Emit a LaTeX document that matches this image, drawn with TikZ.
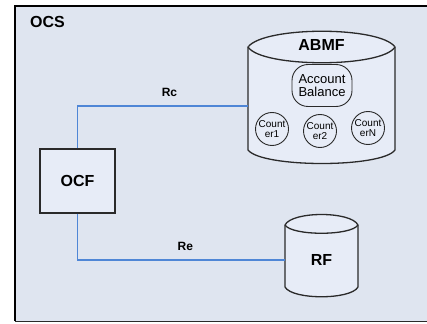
\documentclass[tikz,border=0pt]{standalone}
\usepackage{fontspec}
\setmainfont{Liberation Sans}
\usepackage{tikz}
\usetikzlibrary{arrows.meta,positioning}

\definecolor{ocsbg}{HTML}{DFE5F0}
\definecolor{boxbg}{HTML}{E7ECF7}
\definecolor{linkblue}{HTML}{4F86D6}
\definecolor{edge}{HTML}{2A2A2A}

\begin{document}
\begin{tikzpicture}[
    x=1pt, y=-1pt,
    bigtext/.style={font=\fontsize{16}{18}\selectfont\bfseries, inner sep=0pt},
    linktext/.style={font=\fontsize{12}{14}\selectfont\bfseries},
    func/.style={
    rectangle,
    draw=edge,
    fill=boxbg,
    line width=1.4pt,
    minimum width=75pt,
    minimum height=64pt,
    font=\fontsize{16}{18}\selectfont\bfseries},
    dbbody/.style={rectangle, inner sep=0pt},
    dbshape/.style={draw=edge, fill=boxbg, line width=1.3pt},
    balance/.style={
    rectangle,
    rounded corners=16pt,
    draw=edge,
    line width=0.9pt,
    minimum width=60pt,
    minimum height=42pt,
    inner sep=0pt,
    align=center,
    font=\fontsize{13}{14}\selectfont},
    counter/.style={
    circle,
    draw=edge,
    line width=0.9pt,
    minimum size=33pt,
    inner sep=0pt,
    align=center,
    font=\fontsize{10}{10.5}\selectfont},
    link/.style={draw=linkblue, line width=1.2pt}
    ]
    \useasboundingbox (0,0) rectangle (427,323);

    % OCS frame
    \fill[ocsbg] (15,6) rectangle (440,321);
    \draw[line width=1pt, edge] (15,321) -- (440,321);
    \draw[line width=2.4pt] (15,321) -- (15,6) -- (440,6);
    \node[bigtext, anchor=west] (ocs) at (30,22) {OCS};

    % ABMF cylinder
    \draw[dbshape] (248,47) -- (248,150)
        .. controls (262,168) and (382,168) .. (395,150) -- (395,47)
        .. controls (380,26) and (264,26) .. cycle;
    \draw[dbshape] (248,47) .. controls (262,68) and (382,68) .. (395,47);
    \node[dbbody, minimum width=147pt, minimum height=100pt] (abmf) at (321.5,106) {};
    \node[bigtext] (abmflabel) at (321.5,45) {ABMF};
    \node[balance] (acc) at (322,85.5) {Account\\[-1pt]Balance};
    \node[counter] (cnt1) at (272,129) {Count\\er1};
    \node[counter] (cnt2) at (320,131) {Count\\er2};
    \node[counter] (cntn) at (368,128) {Count\\erN};

    % RF cylinder
    \draw[dbshape] (285,225) -- (285,287)
        .. controls (292,300) and (351,300) .. (358,287) -- (358,225)
        .. controls (351,211) and (292,211) .. cycle;
    \draw[dbshape] (285,225) .. controls (292,236) and (351,236) .. (358,225);
    \node[dbbody, minimum width=73pt, minimum height=60pt, bigtext] (rf) at (321.5,260) {RF};

    % OCF and links
    \node[func] (ocf) at (77.5,181) {OCF};

    \draw[link] (ocf.north) |- (abmf.west) node[pos=0.77, above=5pt, linktext] {Rc};
    \draw[link] (ocf.south) |- (rf.west) node[pos=0.76, above=5pt, linktext] {Re};
\end{tikzpicture}
\end{document}
